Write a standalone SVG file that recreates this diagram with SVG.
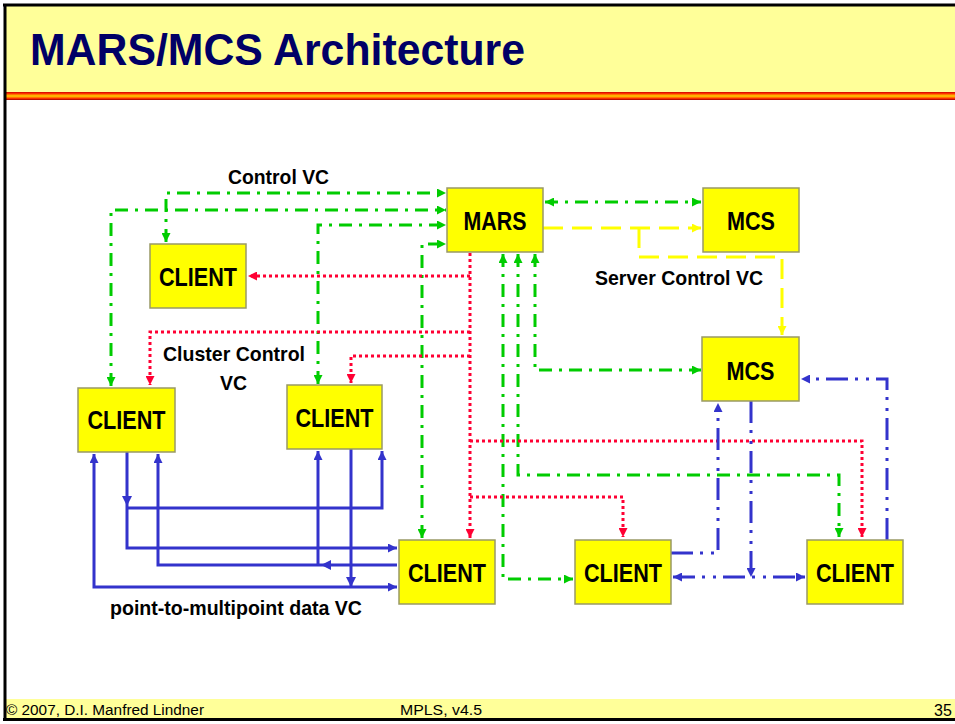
<svg xmlns="http://www.w3.org/2000/svg" width="955" height="724" viewBox="0 0 955 724">
<defs>
<linearGradient id="stripe" x1="0" y1="0" x2="0" y2="1">
<stop offset="0" stop-color="#cc0000"/>
<stop offset="0.2" stop-color="#ff3300"/>
<stop offset="0.38" stop-color="#ff9900"/>
<stop offset="0.5" stop-color="#ffcc00"/>
<stop offset="0.62" stop-color="#ff9900"/>
<stop offset="0.8" stop-color="#ff3300"/>
<stop offset="1" stop-color="#990000"/>
</linearGradient>
<marker id="ag" viewBox="0 0 10 10" refX="10" refY="5" markerWidth="10" markerHeight="9" markerUnits="userSpaceOnUse" orient="auto-start-reverse"><path d="M0,0 L10,5 L0,10 z" fill="#00cc00"/></marker>
<marker id="ar" viewBox="0 0 10 10" refX="10" refY="5" markerWidth="10" markerHeight="9" markerUnits="userSpaceOnUse" orient="auto-start-reverse"><path d="M0,0 L10,5 L0,10 z" fill="#ff0033"/></marker>
<marker id="ay" viewBox="0 0 10 10" refX="10" refY="5" markerWidth="10" markerHeight="9" markerUnits="userSpaceOnUse" orient="auto-start-reverse"><path d="M0,0 L10,5 L0,10 z" fill="#ffff00"/></marker>
<marker id="ab" viewBox="0 0 10 10" refX="10" refY="5" markerWidth="10" markerHeight="9" markerUnits="userSpaceOnUse" orient="auto-start-reverse"><path d="M0,0 L10,5 L0,10 z" fill="#3333cc"/></marker>
</defs>
<style>
.box{fill:#ffff00;stroke:#999966;stroke-width:1.5}
.nt{font-family:"Liberation Sans",Arial,sans-serif;font-weight:bold;font-size:25px;fill:#000;text-anchor:middle}
.lb{font-family:"Liberation Sans",Arial,sans-serif;font-weight:bold;font-size:21px;fill:#000}
.ft{font-family:"Liberation Sans",Arial,sans-serif;font-size:14px;fill:#000}
.ft35{font-family:"Liberation Sans",Arial,sans-serif;font-size:16px;fill:#000}
.g{fill:none;stroke:#00cc00;stroke-width:3;stroke-dasharray:13 7 3 7}
.r{fill:none;stroke:#ff0033;stroke-width:3;stroke-dasharray:3 3}
.y{fill:none;stroke:#ffff00;stroke-width:3;stroke-dasharray:20 9}
.b{fill:none;stroke:#3333cc;stroke-width:3}
.bd{fill:none;stroke:#3333cc;stroke-width:3;stroke-dasharray:22 7 3 8 3 7}
.ah{fill:#3333cc}
</style>
<rect x="0" y="0" width="955" height="724" fill="#ffffff"/>
<g id="header">
<rect x="5" y="5" width="950" height="87" fill="#ffff99"/>
<rect x="5" y="92" width="950" height="8" fill="url(#stripe)"/>
<line x1="3" y1="5" x2="955" y2="5" stroke="#000" stroke-width="3"/>
<text x="30" y="65" font-family="Liberation Sans, Arial, sans-serif" font-weight="bold" font-size="44" fill="#000066" textLength="495" lengthAdjust="spacingAndGlyphs">MARS/MCS Architecture</text>
</g>
<g id="footer">
<rect x="5" y="699" width="950" height="19" fill="#ffff99"/>
<line x1="3" y1="719.5" x2="955" y2="719.5" stroke="#000" stroke-width="3"/>
<text class="ft" x="6" y="715" textLength="198" lengthAdjust="spacingAndGlyphs">© 2007, D.I. Manfred Lindner</text>
<text class="ft" x="400" y="715" textLength="82" lengthAdjust="spacingAndGlyphs">MPLS, v4.5</text>
<text class="ft35" x="934" y="716">35</text>
</g>
<line x1="5" y1="4" x2="5" y2="721" stroke="#000" stroke-width="3"/>

<g id="connectors">
<!-- green control VCs -->
<path class="g" d="M166,242 V193 H446" marker-start="url(#ag)" marker-end="url(#ag)"/>
<path class="g" d="M111,386 V210 H446" marker-start="url(#ag)" marker-end="url(#ag)"/>
<path class="g" d="M318,384 V225 H446" marker-start="url(#ag)" marker-end="url(#ag)"/>
<path class="g" d="M422,538 V244 H446" marker-start="url(#ag)" marker-end="url(#ag)"/>
<path class="g" d="M535,254 V370 H701" marker-start="url(#ag)" marker-end="url(#ag)"/>
<path class="g" d="M518,254 V475 H839 V537" marker-start="url(#ag)" marker-end="url(#ag)"/>
<path class="g" d="M503,254 V579 H573" marker-start="url(#ag)" marker-end="url(#ag)"/>
<path class="g" d="M545,202 H701" marker-start="url(#ag)" marker-end="url(#ag)"/>
<!-- red cluster control VC -->
<path class="r" d="M470,253 V538" marker-end="url(#ar)"/>
<path class="r" d="M470,276 H248" marker-end="url(#ar)"/>
<path class="r" d="M470,332 H150 V385" marker-end="url(#ar)"/>
<path class="r" d="M470,356 H351 V383" marker-end="url(#ar)"/>
<path class="r" d="M470,441 H862 V537" marker-end="url(#ar)"/>
<path class="r" d="M470,497 H623 V537" marker-end="url(#ar)"/>
<!-- yellow server control VC -->
<path class="y" d="M543,228 H701" marker-end="url(#ay)"/>
<path class="y" d="M639,228 V257 H782 V335" marker-end="url(#ay)"/>
<!-- blue point-to-multipoint data VCs -->
<path class="b" d="M127,452 V548 H397" marker-end="url(#ab)"/>
<path class="b" d="M127,508 H382 V451" marker-end="url(#ab)"/>
<polygon class="ah" points="122,496 132,496 127,506"/>
<path class="b" d="M397,565 H158 V454" marker-end="url(#ab)"/>
<path class="b" d="M318,565 V451" marker-end="url(#ab)"/>
<polygon class="ah" points="321,565 331,560 331,570"/>
<path class="b" d="M351,449 V587"/>
<polygon class="ah" points="346,577 356,577 351,587"/>
<path class="b" d="M94,454 V587 H397" marker-start="url(#ab)" marker-end="url(#ab)"/>
<!-- blue MCS VCs -->
<path class="bd" d="M671,553 H718 V403" marker-end="url(#ab)"/>
<path class="bd" d="M887,540 V379 H801" marker-end="url(#ab)"/>
<path class="bd" d="M751,401 V577" marker-end="url(#ab)"/>
<path class="bd" d="M673,577 H805" marker-start="url(#ab)" marker-end="url(#ab)"/>
</g>

<g id="mars"><rect class="box" x="447" y="188" width="96" height="64"/><text class="nt" x="495" y="230" textLength="63" lengthAdjust="spacingAndGlyphs">MARS</text></g>
<g id="mcs1"><rect class="box" x="703" y="188" width="96" height="64"/><text class="nt" x="751" y="230" textLength="48" lengthAdjust="spacingAndGlyphs">MCS</text></g>
<g id="mcs2"><rect class="box" x="702" y="337" width="97" height="64"/><text class="nt" x="750.5" y="380" textLength="48" lengthAdjust="spacingAndGlyphs">MCS</text></g>
<g id="client1"><rect class="box" x="150" y="244" width="96" height="64"/><text class="nt" x="198" y="286" textLength="78" lengthAdjust="spacingAndGlyphs">CLIENT</text></g>
<g id="client2"><rect class="box" x="78" y="388" width="97" height="64"/><text class="nt" x="126.5" y="429" textLength="78" lengthAdjust="spacingAndGlyphs">CLIENT</text></g>
<g id="client3"><rect class="box" x="287" y="385" width="95" height="64"/><text class="nt" x="334.5" y="427" textLength="78" lengthAdjust="spacingAndGlyphs">CLIENT</text></g>
<g id="client4"><rect class="box" x="399" y="540" width="96" height="64"/><text class="nt" x="447" y="582" textLength="78" lengthAdjust="spacingAndGlyphs">CLIENT</text></g>
<g id="client5"><rect class="box" x="575" y="540" width="96" height="64"/><text class="nt" x="623" y="582" textLength="78" lengthAdjust="spacingAndGlyphs">CLIENT</text></g>
<g id="client6"><rect class="box" x="807" y="540" width="96" height="64"/><text class="nt" x="855" y="582" textLength="78" lengthAdjust="spacingAndGlyphs">CLIENT</text></g>

<g id="labels">
<text class="lb" x="228" y="184" textLength="101" lengthAdjust="spacingAndGlyphs">Control VC</text>
<text class="lb" x="595" y="285" textLength="168" lengthAdjust="spacingAndGlyphs">Server Control VC</text>
<text class="lb" x="163" y="361" textLength="142" lengthAdjust="spacingAndGlyphs">Cluster Control</text>
<text class="lb" x="220" y="390" textLength="27" lengthAdjust="spacingAndGlyphs">VC</text>
<text class="lb" x="110" y="615" textLength="252" lengthAdjust="spacingAndGlyphs">point-to-multipoint data VC</text>
</g>
</svg>
